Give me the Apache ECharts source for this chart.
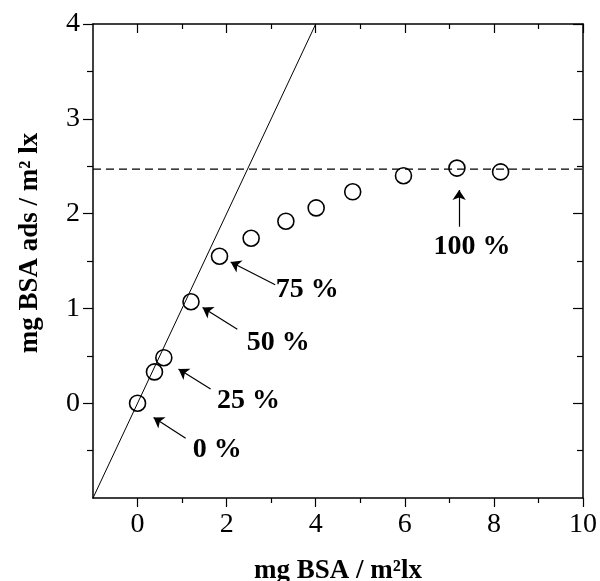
<!DOCTYPE html>
<html>
<head>
<meta charset="utf-8">
<script src="https://cdn.jsdelivr.net/npm/echarts@6/dist/echarts.min.js"></script>
<style>
  html, body { margin: 0; padding: 0; background: #fff; }
  #chart { width: 600px; height: 581px; }
</style>
</head>
<body>
<div id="chart"></div>
<script>
// data
const bsaLoad = [0, 0.38, 0.59, 1.20, 1.84, 2.55, 3.33, 4.01, 4.83, 5.97, 7.17, 8.15]
const bsaAds = [0, 0.33, 0.48, 1.07, 1.55, 1.74, 1.92, 2.06, 2.23, 2.40, 2.48, 2.44]
const plateau = 2.47
const diagonalX = [-1, 4] // y = x line

const xMajor = [0, 2, 4, 6, 8, 10]
const xMinor = [1, 3, 5, 7, 9]
const yMajor = [0, 1, 2, 3, 4]
const yMinor = [-0.5, 0.5, 1.5, 2.5, 3.5]

const noteText = ['0 %', '25 %', '50 %', '75 %', '100 %']
const noteX = [1.79, 2.49, 3.16, 3.81, 7.51]
const noteY = [-0.49, 0.03, 0.64, 1.20, 1.65]
const arrowFrom = [[1.08, -0.37], [1.64, 0.15], [2.24, 0.78], [3.09, 1.25], [7.22, 1.86]]
const arrowTo = [[0.36, -0.15], [0.92, 0.36], [1.46, 1.01], [2.09, 1.49], [7.22, 2.25]]

const serif = '"Liberation Serif", "DejaVu Serif", serif'
const gridBox = { left: 93, right: 17, top: 24, bottom: 83 }

function xAxisCfg(gridIndex, position, ticks, len, withLabels, withLine) {
  return {
    type: 'value', gridIndex, position, min: -1, max: 10,
    splitLine: { show: false },
    axisLine: { show: withLine, onZero: false, lineStyle: { color: '#000', width: 1.5 } },
    axisTick: { show: true, inside: position === 'top', length: len, customValues: ticks,
      lineStyle: { color: '#000', width: 1.2 } },
    axisLabel: { show: withLabels, customValues: xMajor, margin: 13,
      color: '#000', fontFamily: serif, fontSize: 28 }
  }
}

function yAxisCfg(gridIndex, position, ticks, len, withLabels, withLine) {
  return {
    type: 'value', gridIndex, position, min: -1, max: 4,
    splitLine: { show: false },
    axisLine: { show: withLine, onZero: false, lineStyle: { color: '#000', width: 1.5 } },
    axisTick: { show: true, inside: position === 'right', length: len, customValues: ticks,
      lineStyle: { color: '#000', width: 1.2 } },
    axisLabel: { show: withLabels, customValues: yMajor, margin: 13,
      color: '#000', fontFamily: serif, fontSize: 28 }
  }
}

const myChart = echarts.init(document.getElementById('chart'))
const option = {
  animation: false,
  grid: [Object.assign({}, gridBox), Object.assign({}, gridBox)],
  xAxis: [
    xAxisCfg(0, 'bottom', xMajor, 9, true, true),
    xAxisCfg(0, 'top', xMajor, 9, false, true),
    xAxisCfg(1, 'bottom', xMinor, 5, false, false),
    xAxisCfg(1, 'top', xMinor, 5, false, false)
  ],
  yAxis: [
    yAxisCfg(0, 'left', yMajor, 10, true, true),
    yAxisCfg(0, 'right', yMajor, 10, false, true),
    yAxisCfg(1, 'left', yMinor, 6, false, false),
    yAxisCfg(1, 'right', yMinor, 6, false, false)
  ],
  graphic: [
    {
      type: 'text', x: 338, y: 571,
      style: { text: 'mg BSA / m²lx', font: 'bold 27px ' + serif, fill: '#000',
        align: 'center', verticalAlign: 'middle' }
    },
    {
      type: 'text', x: 30, y: 243, rotation: Math.PI / 2,
      style: { text: 'mg BSA ads / m² lx', font: 'bold 27px ' + serif, fill: '#000',
        align: 'center', verticalAlign: 'middle' }
    }
  ],
  series: [
    {
      type: 'line', xAxisIndex: 0, yAxisIndex: 0,
      data: diagonalX.map(x => [x, x]),
      symbol: 'none',
      lineStyle: { color: '#000', width: 1 }
    },
    {
      type: 'line', xAxisIndex: 0, yAxisIndex: 0,
      data: [[-1, plateau], [10, plateau]],
      symbol: 'none',
      lineStyle: { color: '#000', width: 1.2, type: [8, 5] }
    },
    {
      type: 'scatter', xAxisIndex: 0, yAxisIndex: 0,
      data: bsaLoad.map((x, i) => [x, bsaAds[i]]),
      symbol: 'circle', symbolSize: 16,
      itemStyle: { color: 'rgba(0,0,0,0)', borderColor: '#000', borderWidth: 1.6, opacity: 1 },
      z: 5
    },
    {
      type: 'lines', coordinateSystem: 'cartesian2d', xAxisIndex: 0, yAxisIndex: 0,
      data: arrowFrom.map((p, i) => ({ coords: [p, arrowTo[i]] })),
      symbol: ['none', 'arrow'], symbolSize: 10,
      lineStyle: { color: '#000', width: 1.2, opacity: 1 }
    },
    {
      type: 'scatter', xAxisIndex: 0, yAxisIndex: 0,
      data: noteText.map((t, i) => ({ name: t, value: [noteX[i], noteY[i]] })),
      symbolSize: 0,
      itemStyle: { opacity: 1 },
      label: {
        show: true, position: 'inside', formatter: '{b}', opacity: 1,
        color: '#000', fontFamily: serif, fontWeight: 'bold', fontSize: 28
      }
    }
  ]
}
myChart.setOption(option)
</script>
</body>
</html>
